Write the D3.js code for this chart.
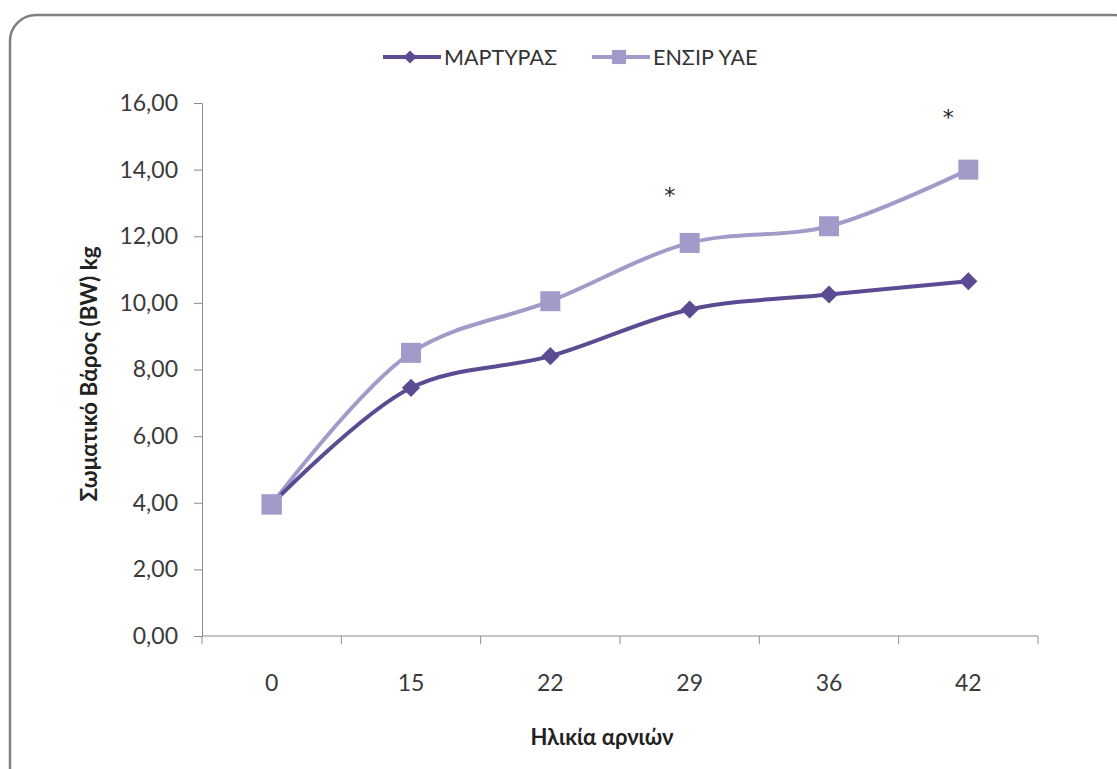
<!DOCTYPE html>
<html>
<head>
<meta charset="utf-8">
<script src="https://cdn.jsdelivr.net/npm/d3@7"></script>
<style>
  body { margin: 0; background: #fff; }
  svg text { font-family: Lato, "Open Sans", sans-serif; }
  .axis path, .axis line { stroke: #8c8c8c; }
  .axis text { fill: #3a3a3a; font-size: 23px; font-family: Lato, "Open Sans", sans-serif; }
</style>
</head>
<body>
<svg width="1117" height="769"></svg>
<script>
// data
var days = ["0", "15", "22", "29", "36", "42"];
var martyras = [3.95, 7.45, 8.4, 9.8, 10.25, 10.65];
var ensir = [3.95, 8.5, 10.05, 11.8, 12.3, 14.0];
var yTicks = [0, 2, 4, 6, 8, 10, 12, 14, 16];
var starDays = ["29", "42"];
var starValues = [13.0, 15.35];

var margin = {top: 103, right: 79, bottom: 133, left: 202};
var width = 1117 - margin.left - margin.right;
var height = 769 - margin.top - margin.bottom;

var svg = d3.select("svg");

// outer frame
svg.append("rect")
  .attr("x", 10).attr("y", 15)
  .attr("width", 1130).attr("height", 780)
  .attr("rx", 26)
  .attr("fill", "#fff")
  .attr("stroke", "#808080")
  .attr("stroke-width", 2.5);

var g = svg.append("g")
  .attr("transform", "translate(" + margin.left + "," + margin.top + ")");

var xScale = d3.scaleBand().domain(days).range([0, width]);
var yScale = d3.scaleLinear().domain([0, 16]).range([height, 0]);

var fmt = function(d) { return d3.format(".2f")(d).replace(".", ","); };

// y axis
g.append("g").attr("class", "axis")
  .call(d3.axisLeft(yScale).tickValues(yTicks).tickFormat(fmt).tickSizeOuter(0).tickSize(8).tickPadding(16));

// x axis, ticks at category boundaries
var xAxis = g.append("g").attr("class", "axis")
  .attr("transform", "translate(0," + height + ")")
  .call(d3.axisBottom(xScale).tickSize(0).tickPadding(39));
xAxis.select(".domain").remove();
xAxis.append("line").attr("x1", 0).attr("x2", width).attr("stroke", "#8c8c8c");
xAxis.selectAll(".bound")
  .data(d3.range(days.length + 1))
  .enter().append("line")
  .attr("class", "bound")
  .attr("x1", function(i) { return i * xScale.bandwidth(); })
  .attr("x2", function(i) { return i * xScale.bandwidth(); })
  .attr("y1", 0).attr("y2", 8)
  .attr("stroke", "#8c8c8c");

// axis titles
svg.append("text")
  .attr("transform", "translate(97,374) rotate(-90)")
  .attr("text-anchor", "middle")
  .style("font-size", "22.5px").style("font-weight", "bold").attr("fill", "#222")
  .text("Σωματικό Βάρος (BW) kg");

svg.append("text")
  .attr("x", 602).attr("y", 745)
  .attr("text-anchor", "middle")
  .style("font-size", "22px").style("font-weight", "bold").attr("fill", "#222")
  .text("Ηλικία αρνιών");

var cx = function(d, i) { return xScale(days[i]) + xScale.bandwidth() / 2; };

var line = d3.line()
  .x(function(d, i) { return cx(d, i); })
  .y(function(d) { return yScale(d); })
  .curve(d3.curveCatmullRom.alpha(0.5));

var colM = "#5c4b92", colE = "#a49ac9";

g.append("path").datum(ensir)
  .attr("fill", "none").attr("stroke", colE).attr("stroke-width", 4)
  .attr("d", line);
g.append("path").datum(martyras)
  .attr("fill", "none").attr("stroke", colM).attr("stroke-width", 4)
  .attr("d", line);

var diamond = d3.symbol().type(d3.symbolDiamond2).size(210);
var square = d3.symbol().type(d3.symbolSquare).size(400);

g.selectAll(".sq").data(ensir).enter().append("path")
  .attr("class", "sq")
  .attr("d", square)
  .attr("fill", colE)
  .attr("transform", function(d, i) { return "translate(" + cx(d, i) + "," + yScale(d) + ")"; });

g.selectAll(".dm").data(martyras).enter().append("path")
  .attr("class", "dm")
  .attr("d", diamond)
  .attr("fill", colM)
  .attr("transform", function(d, i) { return "translate(" + cx(d, i) + "," + yScale(d) + ")"; });

// redraw first square on top (series overlap at day 0)
g.append("path")
  .attr("d", square).attr("fill", colE)
  .attr("transform", "translate(" + cx(ensir[0], 0) + "," + yScale(ensir[0]) + ")");

// significance stars
g.selectAll(".star").data(starDays).enter().append("text")
  .attr("class", "star")
  .attr("x", function(d) { return xScale(d) + xScale.bandwidth() / 2 - 20; })
  .attr("y", function(d, i) { return yScale(starValues[i]); })
  .attr("text-anchor", "middle")
  .style("font-family", "'DejaVu Sans', sans-serif")
  .style("font-size", "22px").attr("fill", "#222")
  .text("*");

// legend
var legend = svg.append("g").attr("transform", "translate(383,57)");
var items = [{name: "ΜΑΡΤΥΡΑΣ", col: colM, sym: d3.symbol().type(d3.symbolDiamond2).size(110), x: 0},
             {name: "ΕΝΣΙΡ ΥΑΕ", col: colE, sym: d3.symbol().type(d3.symbolSquare).size(200), x: 209}];
items.forEach(function(it) {
  var lg = legend.append("g").attr("transform", "translate(" + it.x + ",0)");
  lg.append("line").attr("x1", 0).attr("x2", 58).attr("stroke", it.col).attr("stroke-width", 4);
  lg.append("path").attr("d", it.sym).attr("fill", it.col).attr("transform", "translate(27,0)");
  lg.append("text").attr("x", 61).attr("y", 8)
    .style("font-size", "21.5px").attr("fill", "#333").text(it.name);
});
</script>
</body>
</html>
